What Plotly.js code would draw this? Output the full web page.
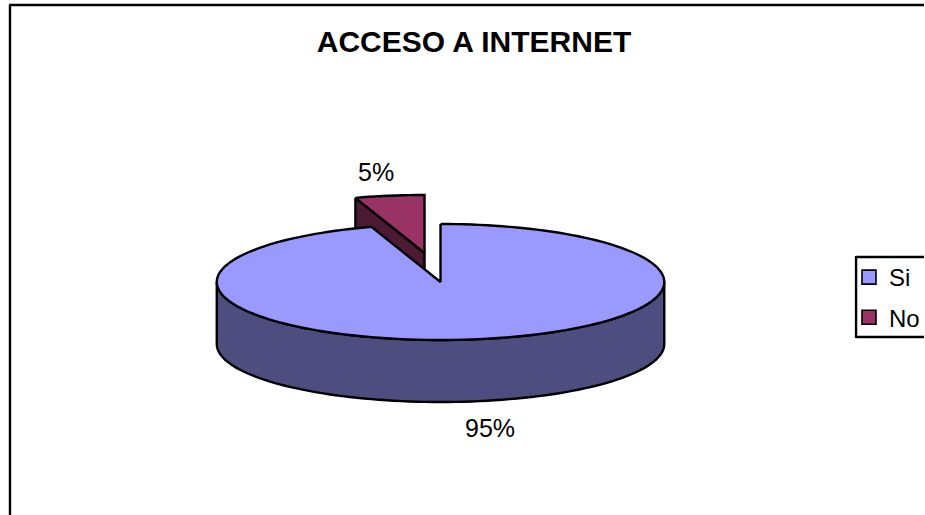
<!DOCTYPE html>
<html>
<head>
<meta charset="utf-8">
<script src="https://cdn.plot.ly/plotly-3.0.1.min.js"></script>
<style>html,body{margin:0;padding:0;background:#fff;overflow:hidden}#chart{width:925px;height:515px}</style>
</head>
<body>
<div id="chart"></div>
<script>
// Data
const categories = ['Si', 'No'];
const values = [95, 5];
const topColors = ['#9999FF', '#993366'];
const sideColors = ['#4D4D80', '#4D1A33'];
const chartTitle = 'ACCESO A INTERNET';

// 3D pie projection
const total = values.reduce((a, b) => a + b, 0);
const cx = 441, cy = 282, rx = 224, ry = 58, depth = 62;
const explode = {Si: [0, 0], No: [-16, -29]};
const FONT = '"Liberation Sans", Arial, sans-serif';

function rim(fromTurn, toTurn, dx, dy, dz) {
  const n = Math.max(2, Math.ceil(Math.abs(toTurn - fromTurn) * 180));
  const xs = [], ys = [];
  for (let i = 0; i <= n; i++) {
    const a = 2 * Math.PI * (fromTurn + (toTurn - fromTurn) * i / n);
    xs.push(cx + dx + rx * Math.sin(a));
    ys.push(cy + dy + dz - ry * Math.cos(a));
  }
  return [xs, ys];
}
function poly(x, y, fill) {
  return {type: 'scatter', mode: 'lines', x, y, fill: 'toself', fillcolor: fill,
          line: {color: '#000', width: 2.4, simplify: false}, hoverinfo: 'skip', showlegend: false};
}

const siEnd = values[0] / total;
const [ndx, ndy] = explode.No;
const [sdx, sdy] = explode.Si;

// "No" slice: side wall, then top face
const noStart = rim(siEnd, siEnd, ndx, ndy, 0);
const noApex = [cx + ndx, cy + ndy];
const noSideX = [noStart[0][0], noApex[0], noApex[0], noStart[0][0], noStart[0][0]];
const noSideY = [noStart[1][0], noApex[1], noApex[1] + depth, noStart[1][0] + depth, noStart[1][0]];
const noTop = rim(siEnd, 1, ndx, ndy, 0);
const noTopTrace = poly([...noTop[0], noApex[0], noTop[0][0]], [...noTop[1], noApex[1], noTop[1][0]], topColors[1]);

// "Si" slice: lower wall (right to left), then top face
const siWallTop = rim(0.25, 0.75, sdx, sdy, 0);
const siWallBot = rim(0.75, 0.25, sdx, sdy, depth);
const siTop = rim(0, siEnd, sdx, sdy, 0);
const siApex = [cx + sdx, cy + sdy];

// Legend entries
const legendTraces = categories.map((name, i) => ({
  type: 'scatter', mode: 'markers', x: [null], y: [null], name, legendgroup: name,
  marker: {symbol: 'square', size: 14, color: topColors[i], line: {color: '#000', width: 1.6}},
  hoverinfo: 'skip'
}));

const traces = [
  poly(noSideX, noSideY, sideColors[1]),
  noTopTrace,
  poly([...siWallTop[0], ...siWallBot[0], siWallTop[0][0]], [...siWallTop[1], ...siWallBot[1], siWallTop[1][0]], sideColors[0]),
  poly([...siTop[0], siApex[0], siTop[0][0]], [...siTop[1], siApex[1], siTop[1][0]], topColors[0]),
  ...legendTraces
];

const pct = values.map(v => Math.round(v / total * 100) + '%');
const line2 = {color: '#000', width: 2.4};

const layout = {
  width: 925, height: 515,
  margin: {l: 0, r: 0, t: 0, b: 0},
  paper_bgcolor: '#fff', plot_bgcolor: '#fff',
  title: {text: '<b>' + chartTitle + '</b>', x: 474 / 925, xanchor: 'center', y: 1 - 41 / 515, yanchor: 'middle',
          font: {family: FONT, size: 30, color: '#000'}},
  xaxis: {range: [0, 925], visible: false, fixedrange: true},
  yaxis: {range: [515, 0], visible: false, fixedrange: true},
  showlegend: true,
  legend: {x: 850 / 925, xanchor: 'left', y: 1 - 255 / 515, yanchor: 'top',
           bgcolor: 'rgba(0,0,0,0)', borderwidth: 0,
           font: {family: FONT, size: 24, color: '#000'}, tracegroupgap: 6, itemsizing: 'trace'},
  shapes: [
    {type: 'line', xref: 'x', yref: 'y', x0: 10, x1: 10, y0: 5, y1: 515, line: line2},
    {type: 'line', xref: 'x', yref: 'y', x0: 9, x1: 925, y0: 5, y1: 5, line: line2},
    {type: 'line', xref: 'x', yref: 'y', x0: 857, x1: 925, y0: 257, y1: 257, line: line2},
    {type: 'line', xref: 'x', yref: 'y', x0: 857, x1: 857, y0: 256, y1: 338, line: line2},
    {type: 'line', xref: 'x', yref: 'y', x0: 857, x1: 925, y0: 337, y1: 337, line: line2}
  ],
  annotations: [
    {x: 376, y: 172, xref: 'x', yref: 'y', text: pct[1], showarrow: false, font: {family: FONT, size: 25, color: '#000'}},
    {x: 491, y: 428, xref: 'x', yref: 'y', text: pct[0], showarrow: false, font: {family: FONT, size: 25, color: '#000'}}
  ]
};
Plotly.newPlot('chart', traces, layout, {displayModeBar: false, staticPlot: true});
</script>
</body>
</html>
